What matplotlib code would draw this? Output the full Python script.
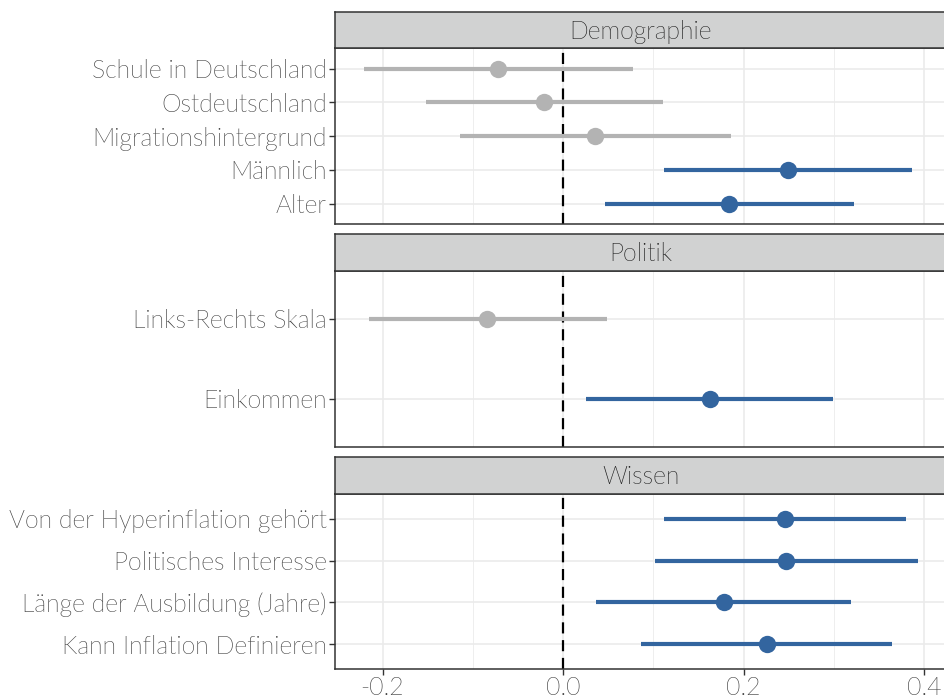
import numpy as np
import matplotlib
matplotlib.use('Agg')
import matplotlib.pyplot as plt
from matplotlib import font_manager

# look for the Lato Light file, fall back on plain Lato
light_file = None
for f in font_manager.fontManager.ttflist:
    base = f.fname.lower().split('/')[-1]
    if f.name == 'Lato' and 'light' in base and 'italic' not in base:
        light_file = f.fname
        break
if light_file:
    fp = font_manager.FontProperties(fname=light_file)
else:
    fp = font_manager.FontProperties(family='Lato')

plt.rcParams['font.family'] = ['Lato', 'DejaVu Sans']

# data (top to bottom inside each facet)
demo_labels = ['Schule in Deutschland', 'Ostdeutschland', 'Migrationshintergrund', 'Männlich', 'Alter']
demo_est = [-0.072, -0.021, 0.036, 0.249, 0.184]
demo_lo = [-0.221, -0.152, -0.114, 0.112, 0.046]
demo_hi = [0.078, 0.111, 0.186, 0.387, 0.322]
demo_sig = [False, False, False, True, True]

pol_labels = ['Links-Rechts Skala', 'Einkommen']
pol_est = [-0.084, 0.163]
pol_lo = [-0.215, 0.026]
pol_hi = [0.049, 0.299]
pol_sig = [False, True]

wis_labels = ['Von der Hyperinflation gehört', 'Politisches Interesse', 'Länge der Ausbildung (Jahre)', 'Kann Inflation Definieren']
wis_est = [0.246, 0.247, 0.178, 0.226]
wis_lo = [0.112, 0.102, 0.037, 0.086]
wis_hi = [0.380, 0.393, 0.319, 0.365]
wis_sig = [True, True, True, True]

facet_names = ['Demographie', 'Politik', 'Wissen']
x_ticks = [-0.2, 0.0, 0.2, 0.4]
x_ticklabels = ['-0.2', '0.0', '0.2', '0.4']

facets = [
    (demo_labels, demo_est, demo_lo, demo_hi, demo_sig),
    (pol_labels, pol_est, pol_lo, pol_hi, pol_sig),
    (wis_labels, wis_est, wis_lo, wis_hi, wis_sig),
]

BLUE = '#33659f'
GREY = '#b3b3b3'
DARK = '#333333'
GRID = '#ebebeb'
FS = 17.8

W, H = 944, 700
fig = plt.figure(figsize=(W / 100, H / 100), dpi=100)

# pixel boxes of panels: (strip top, panel top, panel bottom)
boxes = [(11.7, 48.3, 224.0), (234.3, 270.7, 446.7), (457.3, 493.7, 669.3)]
left_px, right_px = 335, 946

def fbox(top, bottom):
    return [left_px / W, 1 - bottom / H, (right_px - left_px) / W, (bottom - top) / H]

xmin = (left_px - 563) / 902.5
xmax = (right_px - 563) / 902.5

for i, (name, (labels, est, lo, hi, sig)) in enumerate(zip(facet_names, facets)):
    s_top, p_top, p_bot = boxes[i]
    ax = fig.add_axes(fbox(p_top, p_bot))
    n = len(labels)
    y = np.arange(n)[::-1] + 1
    ax.set_xlim(xmin, xmax)
    ax.set_ylim(0.4, n + 0.6)
    ax.set_xticks(x_ticks)
    ax.set_xticks([-0.1, 0.1, 0.3], minor=True)
    ax.set_yticks(y)
    ax.set_yticklabels(labels, fontproperties=fp, fontsize=FS)
    ax.grid(True, which='major', color=GRID, lw=1.2, zorder=0)
    ax.grid(True, which='minor', axis='x', color=GRID, lw=0.6, zorder=0)
    ax.set_axisbelow(True)
    ax.axvline(0, color='black', lw=1.6, ls=(0, (5, 3)), zorder=2)
    for yy, e, l, h, s in zip(y, est, lo, hi, sig):
        c = BLUE if s else GREY
        ax.plot([l, h], [yy, yy], color=c, lw=3, solid_capstyle='butt', zorder=3)
        ax.plot(e, yy, 'o', color=c, ms=12.5, mec='none', zorder=4)
    for sp in ax.spines.values():
        sp.set_color(DARK)
        sp.set_linewidth(1.1)
    ax.tick_params(axis='y', which='major', length=4, width=1, color=DARK,
                   labelcolor='#3d3d3d', pad=2)
    ax.tick_params(axis='x', which='major', length=4, width=1, color=DARK,
                   labelcolor='#3d3d3d', pad=1)
    ax.tick_params(axis='x', which='minor', length=0)
    if i < 2:
        ax.tick_params(axis='x', labelbottom=False, length=0)
    else:
        ax.set_xticklabels(x_ticklabels, fontproperties=fp, fontsize=FS)

    # facet strip
    sax = fig.add_axes(fbox(s_top, p_top))
    sax.set_facecolor('#d1d2d2')
    sax.set_xticks([])
    sax.set_yticks([])
    for sp in sax.spines.values():
        sp.set_color(DARK)
        sp.set_linewidth(1.1)
    sax.text((641 - left_px) / (right_px - left_px), 0.45, name, transform=sax.transAxes,
             ha='center', va='center', fontproperties=fp, fontsize=FS, color='#1a1a1a')

fig.savefig('out.png', dpi=100)
